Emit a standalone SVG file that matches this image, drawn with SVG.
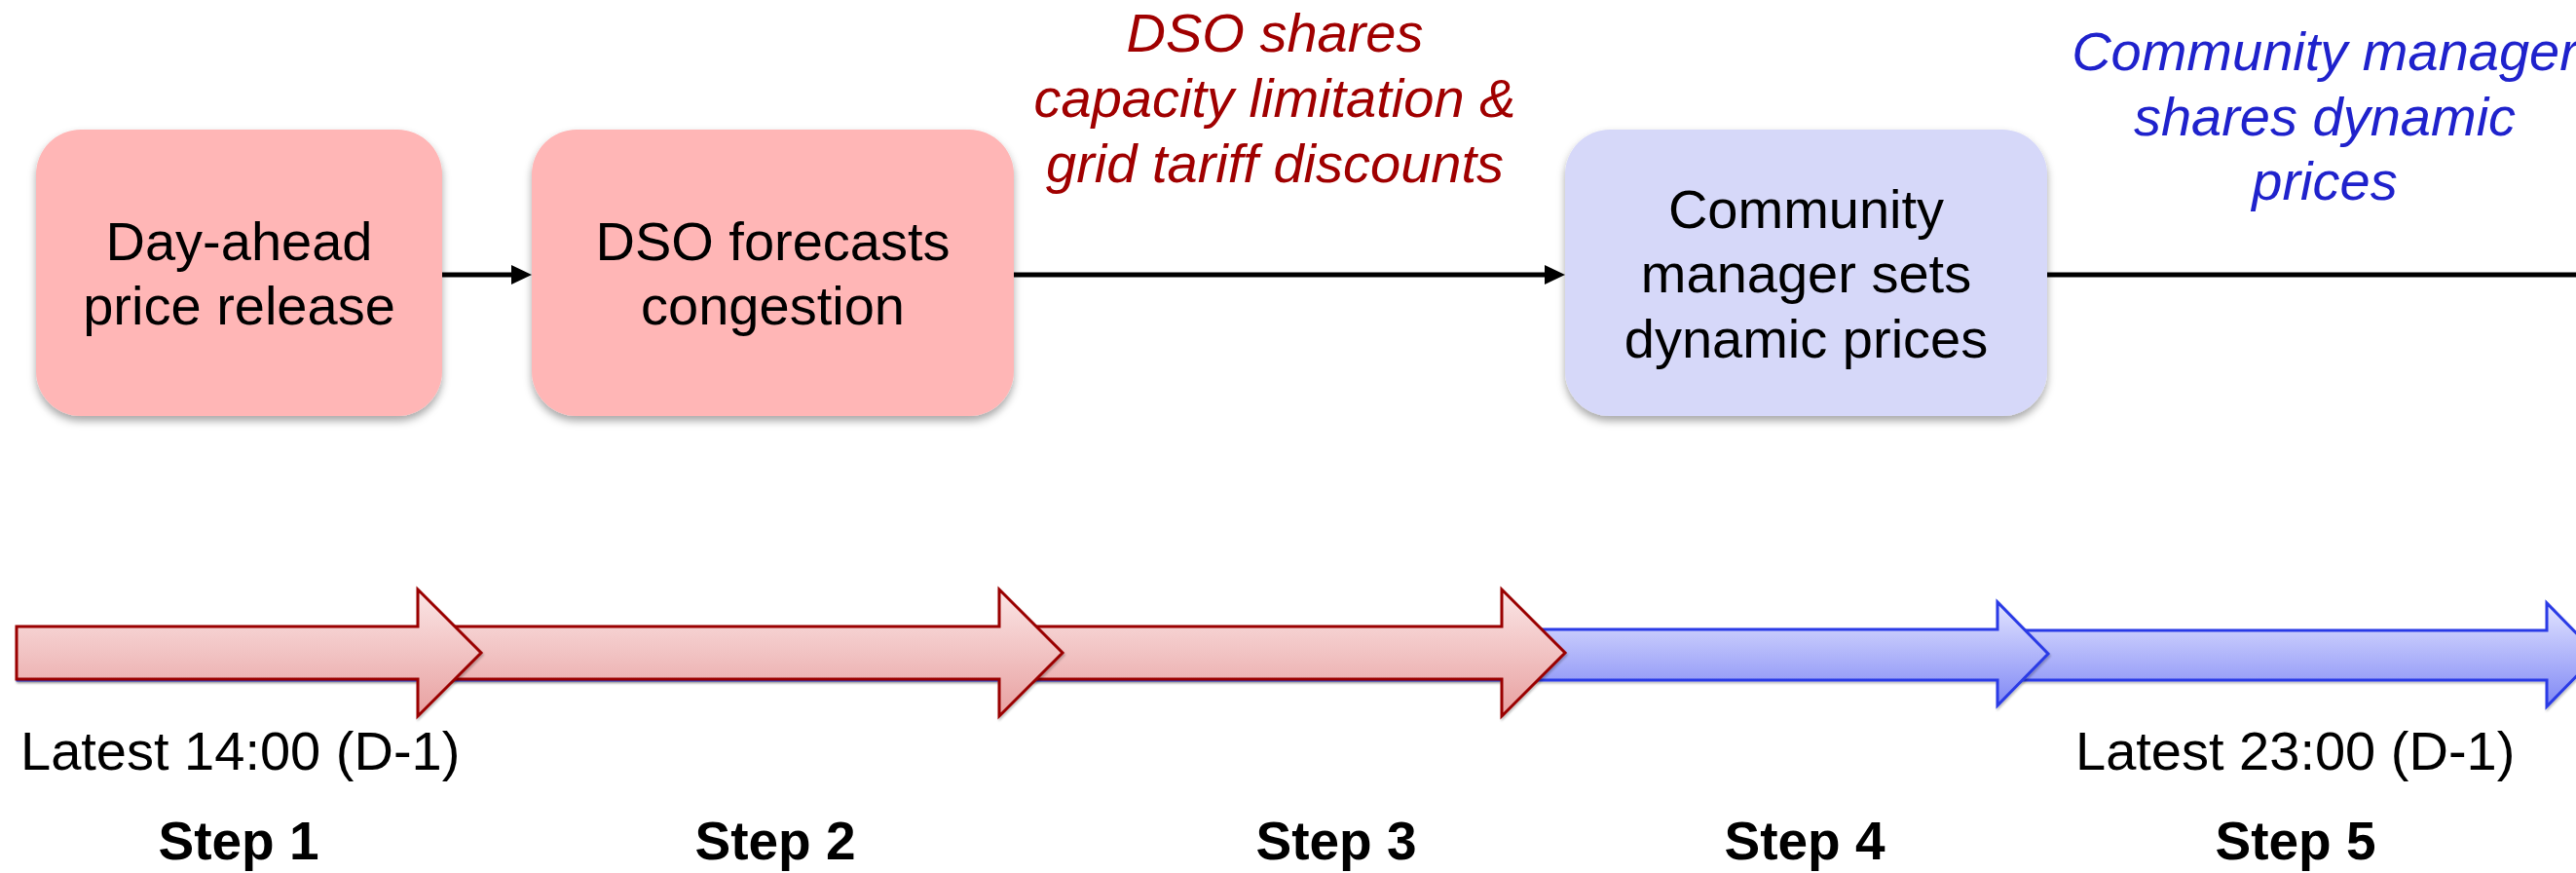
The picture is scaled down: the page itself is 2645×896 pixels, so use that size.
<svg xmlns="http://www.w3.org/2000/svg" width="2645" height="896" viewBox="0 0 2645 896">
  <defs>
    <style>
      text { font-family: "Liberation Sans", Arial, sans-serif; }
      .box-label { font-size: 56px; fill: #000; text-anchor: middle; }
      .note { font-size: 56px; font-style: italic; text-anchor: middle; }
      .note-red { fill: #a00000; }
      .note-blue { fill: #1f22cc; }
      .time { font-size: 56px; fill: #000; }
      .step { font-size: 55px; font-weight: bold; fill: #000; text-anchor: middle; }
      .flow { stroke: #000; stroke-width: 5; fill: none; }
      .box-red { fill: #ffb6b6; }
      .box-blue { fill: #d6d8f9; }
      .arrow-red { fill: url(#gradRed); stroke: #9a0000; stroke-width: 3; stroke-linejoin: miter; }
      .arrow-blue { fill: url(#gradBlue); stroke: #2b3be6; stroke-width: 3; stroke-linejoin: miter; }
    </style>
    <linearGradient id="gradRed" x1="0" y1="0" x2="0" y2="1">
      <stop offset="0" stop-color="#fbe6e6"/>
      <stop offset="1" stop-color="#e8a0a0"/>
    </linearGradient>
    <linearGradient id="gradBlue" x1="0" y1="0" x2="0" y2="1">
      <stop offset="0" stop-color="#e2e4ff"/>
      <stop offset="1" stop-color="#8088f5"/>
    </linearGradient>
    <filter id="boxShadow" x="-10%" y="-10%" width="120%" height="125%">
      <feDropShadow dx="0" dy="5" stdDeviation="4" flood-color="#000" flood-opacity="0.35"/>
    </filter>
    <filter id="barShadow" x="-2%" y="-10%" width="104%" height="130%">
      <feDropShadow dx="1" dy="2" stdDeviation="1" flood-color="#000" flood-opacity="0.25"/>
    </filter>
    <marker id="head" markerUnits="userSpaceOnUse" markerWidth="22" markerHeight="20" refX="0" refY="10" orient="auto">
      <path d="M0,0 L21,10 L0,20 Z" fill="#000"/>
    </marker>
  </defs>

  <!-- process boxes -->
  <g id="node-day-ahead">
    <rect class="box-red" x="37" y="133" width="417" height="294" rx="46" ry="46" filter="url(#boxShadow)"/>
    <text class="box-label" x="245.5" y="267">Day-ahead</text>
    <text class="box-label" x="245.5" y="333">price release</text>
  </g>
  <g id="node-dso-forecast">
    <rect class="box-red" x="546" y="133" width="495" height="294" rx="46" ry="46" filter="url(#boxShadow)"/>
    <text class="box-label" x="793.5" y="267">DSO forecasts</text>
    <text class="box-label" x="793.5" y="333">congestion</text>
  </g>
  <g id="node-community-manager">
    <rect class="box-blue" x="1607" y="133" width="495" height="294" rx="46" ry="46" filter="url(#boxShadow)"/>
    <text class="box-label" x="1854.5" y="234">Community</text>
    <text class="box-label" x="1854.5" y="300">manager sets</text>
    <text class="box-label" x="1854.5" y="367">dynamic prices</text>
  </g>

  <!-- connectors -->
  <g id="connectors">
    <path class="flow" d="M454,282 H525" marker-end="url(#head)"/>
    <path class="flow" d="M1041,282 H1586" marker-end="url(#head)"/>
    <path class="flow" d="M2102,282 H2645"/>
  </g>

  <!-- connector notes -->
  <g id="note-dso">
    <text class="note note-red" x="1309" y="53">DSO shares</text>
    <text class="note note-red" x="1309" y="120">capacity limitation &amp;</text>
    <text class="note note-red" x="1309" y="187">grid tariff discounts</text>
  </g>
  <g id="note-community">
    <text class="note note-blue" x="2387" y="72">Community manager</text>
    <text class="note note-blue" x="2387" y="139">shares dynamic</text>
    <text class="note note-blue" x="2387" y="205">prices</text>
  </g>

  <!-- timeline arrows, back to front -->
  <g id="timeline">
    <path class="arrow-blue" filter="url(#barShadow)" d="M2060,647 H2615 V619 L2667,672 L2615,725 V698 H2060 Z"/>
    <path class="arrow-blue" filter="url(#barShadow)" d="M18,646 H2051 V618 L2103,671 L2051,724 V698 H18 Z"/>
    <path class="arrow-red" filter="url(#barShadow)" d="M1040,643 H1542 V605 L1607,670 L1542,735 V697 H1040 Z"/>
    <path class="arrow-red" filter="url(#barShadow)" d="M440,643 H1026 V605 L1091,670 L1026,735 V697 H440 Z"/>
    <path class="arrow-red" filter="url(#barShadow)" d="M17,643 H429 V605 L494,670 L429,735 V697 H17 Z"/>
  </g>

  <!-- timeline labels -->
  <g id="time-labels">
    <text class="time" x="21" y="790">Latest 14:00 (D-1)</text>
    <text class="time" x="2131" y="790">Latest 23:00 (D-1)</text>
  </g>
  <g id="step-labels">
    <text class="step" x="245" y="882">Step 1</text>
    <text class="step" x="796" y="882">Step 2</text>
    <text class="step" x="1372" y="882">Step 3</text>
    <text class="step" x="1853" y="882">Step 4</text>
    <text class="step" x="2357" y="882">Step 5</text>
  </g>
</svg>
